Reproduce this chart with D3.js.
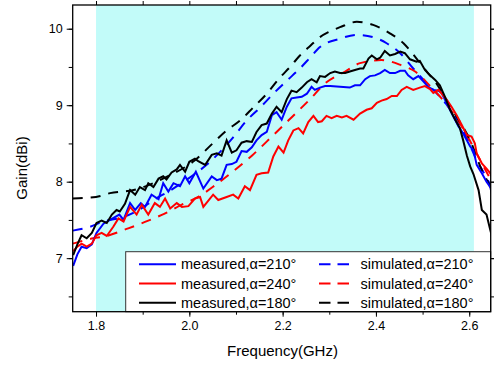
<!DOCTYPE html>
<html>
<head>
<meta charset="utf-8">
<script src="https://cdn.jsdelivr.net/npm/d3@7"></script>
<style>
  body { margin: 0; background: #fff; }
  svg { display: block; font-family: "Liberation Sans", Arial, sans-serif; }
</style>
</head>
<body>
<svg class="chart" width="494" height="366"></svg>
<script>
// measured curves, [GHz, dBi]
var measured180 = [[1.751,7.04],[1.760,7.18],[1.769,7.30],[1.780,7.26],[1.791,7.33],[1.801,7.46],[1.812,7.49],[1.823,7.46],[1.834,7.57],[1.844,7.63],[1.851,7.61],[1.862,7.71],[1.873,7.89],[1.884,7.83],[1.894,7.93],[1.905,7.89],[1.912,7.98],[1.923,7.93],[1.934,8.04],[1.944,8.07],[1.951,8.03],[1.962,8.12],[1.973,8.16],[1.980,8.22],[1.991,8.13],[2.000,8.26],[2.012,8.30],[2.019,8.27],[2.034,8.22],[2.048,8.35],[2.059,8.37],[2.069,8.34],[2.080,8.54],[2.091,8.38],[2.101,8.41],[2.112,8.51],[2.123,8.53],[2.134,8.52],[2.144,8.65],[2.155,8.74],[2.166,8.76],[2.177,8.89],[2.187,8.98],[2.198,8.91],[2.209,9.08],[2.219,9.19],[2.230,9.17],[2.241,9.23],[2.252,9.30],[2.262,9.34],[2.273,9.30],[2.280,9.38],[2.291,9.37],[2.302,9.42],[2.312,9.44],[2.323,9.42],[2.334,9.42],[2.344,9.44],[2.355,9.46],[2.366,9.48],[2.373,9.48],[2.384,9.61],[2.391,9.65],[2.402,9.60],[2.409,9.62],[2.419,9.71],[2.430,9.65],[2.441,9.67],[2.452,9.70],[2.462,9.68],[2.473,9.60],[2.487,9.57],[2.494,9.58],[2.505,9.46],[2.516,9.39],[2.527,9.33],[2.537,9.26],[2.548,9.11],[2.559,8.94],[2.570,8.81],[2.580,8.70],[2.587,8.54],[2.595,8.34],[2.602,8.20],[2.609,8.10],[2.620,7.89],[2.627,7.63],[2.637,7.57],[2.645,7.37],[2.652,7.20]]

var measured210 = [[1.751,6.90],[1.760,7.05],[1.769,7.15],[1.780,7.13],[1.791,7.18],[1.801,7.33],[1.816,7.45],[1.830,7.50],[1.850,7.57],[1.859,7.50],[1.873,7.72],[1.884,7.63],[1.896,7.72],[1.905,7.67],[1.919,7.83],[1.934,7.77],[1.944,7.98],[1.955,7.87],[1.966,7.98],[1.980,7.94],[1.991,8.07],[2.000,7.98],[2.014,8.13],[2.030,7.91],[2.048,8.07],[2.059,8.02],[2.069,8.04],[2.080,8.22],[2.091,8.23],[2.101,8.26],[2.112,8.40],[2.123,8.39],[2.134,8.45],[2.144,8.54],[2.155,8.61],[2.166,8.65],[2.177,8.87],[2.187,8.91],[2.198,8.81],[2.209,8.98],[2.219,9.09],[2.230,9.10],[2.241,9.11],[2.252,9.15],[2.262,9.24],[2.269,9.20],[2.280,9.23],[2.291,9.25],[2.302,9.25],[2.323,9.24],[2.344,9.23],[2.355,9.26],[2.366,9.26],[2.377,9.34],[2.387,9.38],[2.398,9.39],[2.409,9.42],[2.419,9.46],[2.430,9.42],[2.441,9.42],[2.452,9.45],[2.462,9.45],[2.469,9.39],[2.480,9.34],[2.491,9.38],[2.502,9.31],[2.512,9.24],[2.523,9.20],[2.534,9.19],[2.541,9.16],[2.552,9.02],[2.566,8.85],[2.577,8.72],[2.587,8.63],[2.602,8.46],[2.609,8.41],[2.616,8.22],[2.627,8.11],[2.637,8.00],[2.645,7.93],[2.653,7.72]]

var measured240 = [[1.751,7.09],[1.760,7.15],[1.769,7.19],[1.780,7.15],[1.791,7.19],[1.801,7.30],[1.812,7.33],[1.823,7.29],[1.837,7.41],[1.848,7.52],[1.859,7.48],[1.873,7.67],[1.887,7.57],[1.898,7.70],[1.912,7.57],[1.926,7.72],[1.937,7.67],[1.948,7.78],[1.959,7.65],[1.973,7.72],[1.984,7.67],[1.998,7.68],[2.012,7.78],[2.023,7.80],[2.030,7.67],[2.051,7.83],[2.062,7.76],[2.080,7.80],[2.094,7.83],[2.105,7.78],[2.119,7.94],[2.130,7.89],[2.144,8.09],[2.155,8.11],[2.169,8.12],[2.180,8.33],[2.191,8.46],[2.202,8.38],[2.212,8.54],[2.223,8.67],[2.234,8.70],[2.244,8.63],[2.255,8.78],[2.266,8.86],[2.276,8.78],[2.284,8.79],[2.294,8.86],[2.305,8.83],[2.316,8.86],[2.327,8.84],[2.337,8.86],[2.352,8.81],[2.366,8.89],[2.380,8.94],[2.391,8.96],[2.402,9.03],[2.412,9.06],[2.423,9.08],[2.434,9.12],[2.445,9.12],[2.455,9.20],[2.466,9.24],[2.480,9.20],[2.494,9.23],[2.505,9.25],[2.516,9.21],[2.523,9.16],[2.534,9.20],[2.544,9.13],[2.552,9.07],[2.562,8.98],[2.573,8.87],[2.584,8.74],[2.595,8.61],[2.605,8.59],[2.612,8.50],[2.616,8.37],[2.627,8.24],[2.637,8.17],[2.645,8.11],[2.652,8.02]]

// simulated curves
var simulated210 = [[1.75,7.36],[1.787,7.41],[1.816,7.48],[1.855,7.53],[1.90,7.66],[1.923,7.76],[1.955,7.87],[2.0,8.05],[2.037,8.22],[2.066,8.39],[2.094,8.58],[2.123,8.80],[2.152,8.97],[2.18,9.15],[2.209,9.32],[2.237,9.48],[2.26,9.63],[2.28,9.76],[2.323,9.87],[2.359,9.92],[2.394,9.89],[2.423,9.81],[2.452,9.68],[2.48,9.48],[2.502,9.33],[2.523,9.20],[2.55,9.02],[2.58,8.75],[2.60,8.50],[2.616,8.28],[2.63,8.13],[2.645,7.96],[2.653,7.87]]

var simulated240 = [[1.75,7.19],[1.794,7.26],[1.816,7.28],[1.869,7.39],[1.912,7.49],[1.946,7.58],[1.984,7.70],[2.019,7.80],[2.050,7.93],[2.091,8.12],[2.134,8.34],[2.177,8.59],[2.219,8.84],[2.259,9.08],[2.290,9.28],[2.334,9.44],[2.366,9.55],[2.412,9.59],[2.455,9.52],[2.484,9.44],[2.516,9.25],[2.55,9.02],[2.58,8.76],[2.60,8.55],[2.62,8.32],[2.65,7.98]]

var simulated180 = [[1.75,7.78],[1.80,7.80],[1.83,7.85],[1.887,7.90],[1.95,8.06],[2.012,8.28],[2.05,8.50],[2.08,8.67],[2.109,8.80],[2.137,8.97],[2.166,9.15],[2.194,9.36],[2.216,9.50],[2.237,9.65],[2.26,9.78],[2.28,9.89],[2.30,9.96],[2.323,10.02],[2.359,10.09],[2.394,10.05],[2.43,9.94],[2.459,9.81],[2.487,9.61],[2.509,9.44],[2.53,9.28],[2.55,9.08],[2.577,8.81],[2.602,8.54],[2.627,8.15],[2.645,7.93],[2.653,7.80]]

var bandRange = [1.8, 2.61]
var xTicks = [1.8, 2.0, 2.2, 2.4, 2.6]
var yTicks = [7, 8, 9, 10]

var series = [
    {name: 'measured,α=210°', data: measured210, color: '#0000ff', dash: null},
    {name: 'measured,α=240°', data: measured240, color: '#ff0000', dash: null},
    {name: 'measured,α=180°', data: measured180, color: '#000000', dash: null},
    {name: 'simulated,α=210°', data: simulated210, color: '#0000ff', dash: '10,8'},
    {name: 'simulated,α=240°', data: simulated240, color: '#ff0000', dash: '10,8'},
    {name: 'simulated,α=180°', data: simulated180, color: '#000000', dash: '10,8'}
]

var svg = d3.select('.chart')

// note: "top" is taken by window.top, so use plot* names
var plotL = 72.7, plotR = 490.7, plotT = 5, plotB = 311.7

var xScale = d3.scaleLinear().domain([1.75, 2.646]).range([plotL, plotR])
var yScale = d3.scaleLinear().domain([6.3, 10.31]).range([plotB, plotT])

svg.append('clipPath').attr('id', 'plotClip')
    .append('rect')
    .attr('x', plotL).attr('y', plotT)
    .attr('width', plotR - plotL).attr('height', plotB - plotT)

// shaded band
svg.append('rect')
    .attr('x', xScale(bandRange[0]))
    .attr('y', plotT)
    .attr('width', xScale(bandRange[1]) - xScale(bandRange[0]))
    .attr('height', plotB - plotT)
    .style('fill', '#c2fbf9')

var line = d3.line()
    .x(d => xScale(d[0]))
    .y(d => yScale(d[1]))

var curveG = svg.append('g').attr('clip-path', 'url(#plotClip)')

// simulated first, measured on top
series.slice(3).concat(series.slice(0, 3)).forEach(s => {
    curveG.append('path')
        .datum(s.data)
        .attr('d', s.dash ? line.curve(d3.curveMonotoneX) : line.curve(d3.curveLinear))
        .style('fill', 'none')
        .style('stroke', s.color)
        .style('stroke-width', 2)
        .style('stroke-dasharray', s.dash)
})

// axes
var xMinor = d3.range(1.8, 2.65, 0.1).map(v => +v.toFixed(2))
var yMinor = d3.range(6.5, 10.31, 0.5)

var xAxis = d3.axisBottom(xScale).tickValues(xTicks).tickFormat(d3.format('.1f')).tickSizeOuter(0).tickSize(5).tickPadding(4)
var yAxis = d3.axisLeft(yScale).tickValues(yTicks).tickFormat(d3.format('d')).tickSizeOuter(0).tickSize(6).tickPadding(4)

function styleAxis(g) {
    g.select('.domain').remove()
    g.selectAll('line').style('stroke', '#000')
    g.selectAll('text').style('font-size', '12.5px').style('fill', '#000')
        .style('font-family', '"Liberation Sans", Arial, sans-serif')
}

svg.append('g').attr('class', 'x-axis')
    .attr('transform', 'translate(0,' + plotB + ')')
    .call(xAxis).call(styleAxis)
svg.append('g').attr('class', 'x-minor')
    .attr('transform', 'translate(0,' + plotB + ')')
    .call(d3.axisBottom(xScale).tickValues(xMinor).tickFormat('').tickSize(3).tickSizeOuter(0)).call(styleAxis)
svg.append('g').attr('class', 'x-top')
    .attr('transform', 'translate(0,' + plotT + ')')
    .call(d3.axisTop(xScale).tickValues(xMinor).tickFormat('').tickSize(4).tickSizeOuter(0)).call(styleAxis)

svg.append('g').attr('class', 'y-axis')
    .attr('transform', 'translate(' + plotL + ',0)')
    .call(yAxis).call(styleAxis)
svg.append('g').attr('class', 'y-minor')
    .attr('transform', 'translate(' + plotL + ',0)')
    .call(d3.axisLeft(yScale).tickValues(yMinor).tickFormat('').tickSize(4).tickSizeOuter(0)).call(styleAxis)
svg.append('g').attr('class', 'y-right')
    .attr('transform', 'translate(' + plotR + ',0)')
    .call(d3.axisRight(yScale).tickValues(yMinor.concat(yTicks)).tickFormat('').tickSize(4).tickSizeOuter(0)).call(styleAxis)

// legend
var legendG = svg.append('g').attr('class', 'legend')
legendG.append('rect')
    .attr('x', 125.7).attr('y', 251.7)
    .attr('width', plotR - 125.7).attr('height', plotB - 251.7)
    .style('fill', '#fff')
    .style('stroke', '#333')
    .style('stroke-width', 1)

var rowY = [264.3, 283.5, 302.7]
series.forEach((s, i) => {
    var col = i < 3 ? 0 : 1
    var ly = rowY[i % 3]
    var x0 = col == 0 ? 139 : 319
    var x1 = col == 0 ? 176 : 350
    legendG.append('line')
        .attr('x1', x0).attr('x2', x1)
        .attr('y1', ly).attr('y2', ly)
        .style('stroke', s.color)
        .style('stroke-width', 2)
        .style('stroke-dasharray', s.dash ? '11.5,7' : null)
    legendG.append('text')
        .text(s.name)
        .attr('x', col == 0 ? 181 : 360.5)
        .attr('y', ly + 5)
        .style('font-size', '14.5px')
        .style('fill', '#000')
})

// frame
svg.append('rect')
    .attr('x', plotL).attr('y', plotT)
    .attr('width', plotR - plotL).attr('height', plotB - plotT)
    .style('fill', 'none')
    .style('stroke', '#000')
    .style('stroke-width', 1.3)

svg.append('text')
    .text('Frequency(GHz)')
    .attr('x', (225 + 340) / 2)
    .attr('y', 355.5)
    .attr('text-anchor', 'middle')
    .style('font-size', '15px')

svg.append('text')
    .text('Gain(dBi)')
    .attr('transform', 'translate(26.5, 168) rotate(-90)')
    .attr('text-anchor', 'middle')
    .style('font-size', '15px')
</script>
</body>
</html>
